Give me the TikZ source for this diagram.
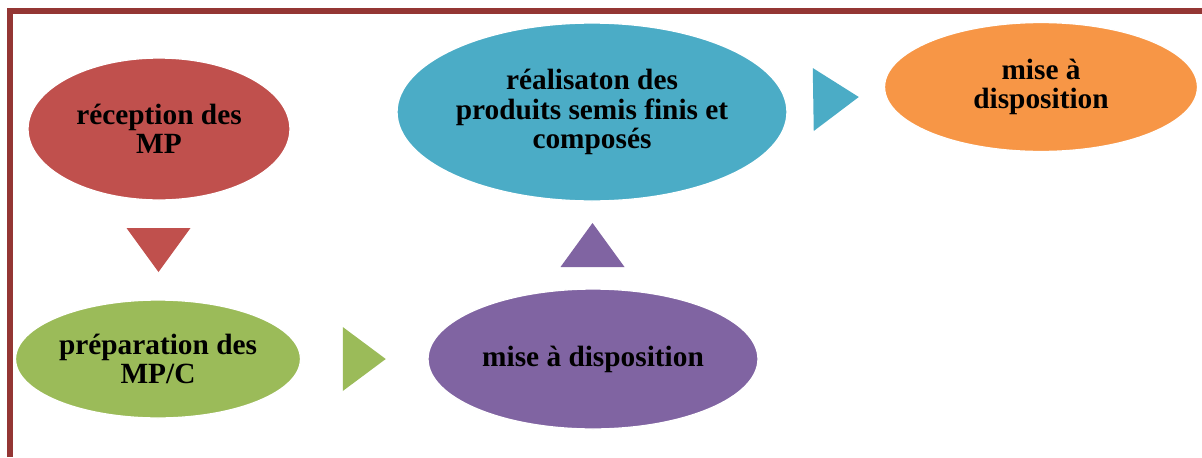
\documentclass[tikz,border=0pt]{standalone}
\usepackage{fontspec}
\setmainfont{Liberation Serif}
\usepackage{tikz}
\usetikzlibrary{shapes, calc}

\definecolor{cadre}{RGB}{148,54,52}
\definecolor{rouge}{RGB}{192,80,77}
\definecolor{vert}{RGB}{155,187,89}
\definecolor{violet}{RGB}{128,100,162}
\definecolor{bleu}{RGB}{75,172,198}
\definecolor{orange}{RGB}{247,150,70}

\begin{document}
\begin{tikzpicture}[x=0.75pt, y=-0.75pt,
    etape/.style 2 args={ellipse, draw=white, line width=1pt, inner sep=0pt,
      align=center, minimum width=#1*0.75pt, minimum height=#2*0.75pt,
      font=\bfseries\fontsize{22}{22}\selectfont}]
    \useasboundingbox (0,0) rectangle (1202,457);
    \draw[cadre, line width=4.5pt, miter limit=10] (10,457) -- (10,11) -- (1202,11);

    \node[etape={262}{142}, fill=rouge] (R) at (159,129) {réception des\\MP};
    \node[etape={285}{118}, fill=vert] (P) at (158,359) {préparation des\\MP/C};
    \node[etape={330}{140}, fill=violet] (M) at (593,359) {mise à disposition};
    \node[etape={390}{178}, fill=bleu] (S) at (592,112) {réalisaton des\\produits semis finis et\\composés};
    \node[etape={313}{129}, fill=orange] (D) at (1041,87) {mise à\\disposition};

    \coordinate (RP) at ($(R.south)!.5!(P.north)$);
    \coordinate (PM) at ($(P.east)!.5!(M.west)$);
    \coordinate (MS) at ($(M.north)!.5!(S.south)$);
    \coordinate (SD) at ($(S.east)!.5!(D.west)$);
    \fill[rouge] (RP) ++(-32,-22) -- ++(64,0) -- ++(-32,44) -- cycle;
    \fill[vert] (PM) ++(-21.5,-32) -- ++(43,32) -- ++(-43,32) -- cycle;
    \fill[violet] (MS) ++(-32,22) -- ++(64,0) -- ++(-32,-44) -- cycle;
    \fill[bleu] (SD) ++(-23,-31.5) -- ++(46,29) -- ++(-45,34) -- cycle;
\end{tikzpicture}
\end{document}
